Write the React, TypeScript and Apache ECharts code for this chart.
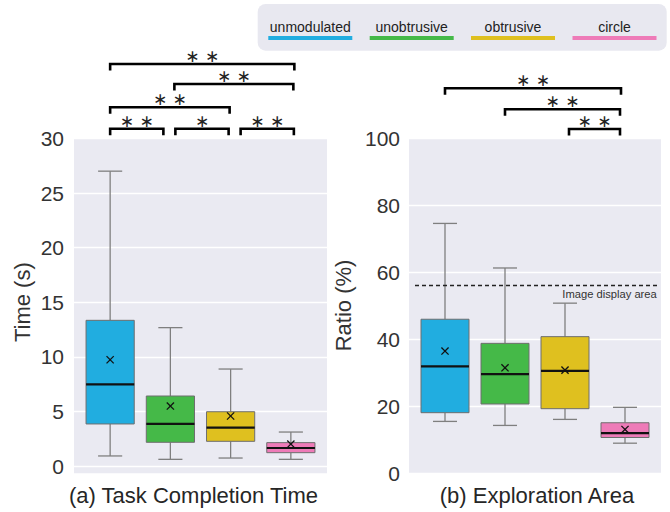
import React, { useEffect, useRef } from "react";
import * as echarts from "echarts";

const groups = ["unmodulated", "unobtrusive", "obtrusive", "circle"];
const colors = ["#21ade0", "#45b948", "#dfc01f", "#ee7bb8"];

// (a) Task Completion Time (s)
const timeLow = [0.92, 0.61, 0.73, 0.61];
const timeQ1 = [3.85, 2.17, 2.26, 1.22];
const timeMedian = [7.48, 3.85, 3.51, 1.65];
const timeQ3 = [13.34, 6.41, 4.97, 2.14];
const timeHigh = [27.0, 12.67, 8.88, 3.11];
const timeMean = [9.73, 5.49, 4.58, 2.01];
const timeTicks = [0, 5, 10, 15, 20, 25, 30];

// (b) Exploration Area ratio (%)
const ratioLow = [15.4, 14.2, 16.0, 8.9];
const ratioQ1 = [18.0, 20.6, 19.2, 10.6];
const ratioMedian = [31.8, 29.5, 30.5, 11.9];
const ratioQ3 = [45.9, 38.7, 40.7, 15.0];
const ratioHigh = [74.5, 61.2, 50.7, 19.6];
const ratioMean = [36.4, 31.4, 30.7, 13.0];
const ratioTicks = [0, 20, 40, 60, 80, 100];
const imageDisplayArea = 56;

// significance brackets
const timePairs = [[0, 3], [1, 3], [0, 2], [0, 1], [1, 2], [2, 3]];
const timeMarks = ["**", "**", "**", "**", "*", "**"];
const ratioPairs = [[0, 3], [1, 3], [2, 3]];
const ratioMarks = ["**", "**", "**"];

// layout (pixels)
const timeBracketY = [64, 84, 107.3, 128.7, 128.7, 128.7];
const timeBracketNudge = [[0, 3.5], [4, 2.5], [0, -1], [0, -7], [5, -2], [10, 3]];
const ratioBracketY = [88.3, 109.3, 129];
const ratioBracketNudge = [[0, -4], [0, -5], [4, -5]];

const FONT = "Liberation Sans";

function boxData(low: number[], q1: number[], med: number[], q3: number[], high: number[], mean: number[]) {
  return groups.map((_, i) => [i, low[i], q1[i], med[i], q3[i], high[i], mean[i]]);
}

const renderBox = (params: any, api: any) => {
  const i = api.value(0);
  const cx = api.coord([i, api.value(3)])[0];
  const yLow = api.coord([i, api.value(1)])[1];
  const yQ1 = api.coord([i, api.value(2)])[1];
  const yMed = api.coord([i, api.value(3)])[1];
  const yQ3 = api.coord([i, api.value(4)])[1];
  const yHigh = api.coord([i, api.value(5)])[1];
  const yMean = api.coord([i, api.value(6)])[1];
  const half = api.size([0.8, 0])[0] / 2;
  const cap = half / 2;
  const wStyle = { stroke: "#7f7f7f", lineWidth: 1.3 };
  const m = 3.6;
  return {
    type: "group",
    children: [
      { type: "line", shape: { x1: cx, y1: yQ3, x2: cx, y2: yHigh }, style: wStyle },
      { type: "line", shape: { x1: cx - cap, y1: yHigh, x2: cx + cap, y2: yHigh }, style: wStyle },
      { type: "line", shape: { x1: cx, y1: yQ1, x2: cx, y2: yLow }, style: wStyle },
      { type: "line", shape: { x1: cx - cap, y1: yLow, x2: cx + cap, y2: yLow }, style: wStyle },
      {
        type: "rect",
        shape: { x: cx - half, y: yQ3, width: 2 * half, height: yQ1 - yQ3 },
        style: { fill: colors[i], stroke: "#6e6e6e", lineWidth: 1 },
      },
      { type: "line", shape: { x1: cx - half, y1: yMed, x2: cx + half, y2: yMed }, style: { stroke: "#111", lineWidth: 2.2 } },
      { type: "line", shape: { x1: cx - m, y1: yMean - m, x2: cx + m, y2: yMean + m }, style: { stroke: "#111", lineWidth: 1.3 } },
      { type: "line", shape: { x1: cx - m, y1: yMean + m, x2: cx + m, y2: yMean - m }, style: { stroke: "#111", lineWidth: 1.3 } },
    ],
  };
};

const makeBracketRenderer = (pairs: number[][], marks: string[], ys: number[], nudges: number[][]) =>
  (params: any, api: any) => {
    const k = params.dataIndex;
    const [a, b] = pairs[k];
    const x1 = api.coord([a, 0])[0] + nudges[k][0];
    const x2 = api.coord([b, 0])[0] + nudges[k][1];
    const y = ys[k];
    const label = marks[k].split("").map(() => "\u2217").join(" ");
    return {
      type: "group",
      children: [
        {
          type: "polyline",
          shape: { points: [[x1, y + 6.5], [x1, y], [x2, y], [x2, y + 6.5]] },
          style: { stroke: "#000", lineWidth: 2.6, fill: "none" },
        },
        {
          type: "text",
          x: (x1 + x2) / 2,
          y: y - 8,
          style: { text: label, fontSize: 17, fontFamily: "DejaVu Sans", fill: "#222", align: "center", verticalAlign: "middle" },
        },
      ],
    };
  };

export default function App() {
  const ref = useRef<HTMLDivElement>(null);
  useEffect(() => {
    if (!ref.current) return;
    const chart = echarts.init(ref.current, null, { renderer: "svg" });
    const legendCenters = [310.3, 411.7, 513, 614.5];
    const axisLabel = { fontSize: 21, color: "#333", fontFamily: FONT };
    const option: any = {
      animation: false,
      textStyle: { fontFamily: FONT },
      grid: [
        { left: 74, top: 138.4, width: 253, height: 327.6, show: true, backgroundColor: "#eaeaf2", borderWidth: 0 },
        { left: 409, top: 138, width: 252, height: 335, show: true, backgroundColor: "#eaeaf2", borderWidth: 0 },
      ],
      xAxis: [
        { type: "value", gridIndex: 0, min: -0.6, max: 3.6, show: false },
        { type: "value", gridIndex: 1, min: -0.6, max: 3.6, show: false },
      ],
      yAxis: [
        {
          type: "value", gridIndex: 0, min: timeTicks[0], max: timeTicks[timeTicks.length - 1], interval: 5,
          axisLine: { show: false }, axisTick: { show: false },
          axisLabel: { ...axisLabel, margin: 10 },
          splitLine: { lineStyle: { color: "#ffffff", width: 1.3 } },
          name: "Time (s)", nameLocation: "middle", nameGap: 41, nameRotate: 90,
          nameTextStyle: { fontSize: 22, color: "#333", fontFamily: FONT },
        },
        {
          type: "value", gridIndex: 1, min: ratioTicks[0], max: ratioTicks[ratioTicks.length - 1], interval: 20,
          axisLine: { show: false }, axisTick: { show: false },
          axisLabel: { ...axisLabel, margin: 9 },
          splitLine: { lineStyle: { color: "#ffffff", width: 1.3 } },
          name: "Ratio (%)", nameLocation: "middle", nameGap: 55, nameRotate: 90,
          nameTextStyle: { fontSize: 22, color: "#333", fontFamily: FONT },
        },
      ],
      series: [
        {
          type: "custom", name: "time", xAxisIndex: 0, yAxisIndex: 0, z: 3,
          data: boxData(timeLow, timeQ1, timeMedian, timeQ3, timeHigh, timeMean),
          encode: { x: 0, y: [1, 2, 3, 4, 5, 6] },
          renderItem: renderBox,
        },
        {
          type: "custom", name: "ratio", xAxisIndex: 1, yAxisIndex: 1, z: 3,
          data: boxData(ratioLow, ratioQ1, ratioMedian, ratioQ3, ratioHigh, ratioMean),
          encode: { x: 0, y: [1, 2, 3, 4, 5, 6] },
          renderItem: renderBox,
          markLine: {
            silent: true, symbol: "none",
            lineStyle: { type: [4, 3], color: "#222", width: 1.4 },
            label: {
              show: true, position: "insideEndBottom", formatter: "Image display area",
              fontSize: 11.2, color: "#333", fontFamily: FONT, distance: 3,
            },
            data: [[{ coord: [-0.5, imageDisplayArea] }, { coord: [3.58, imageDisplayArea] }]],
          },
        },
        {
          type: "custom", name: "timeSig", xAxisIndex: 0, yAxisIndex: 0, clip: false, silent: true,
          data: timePairs.map((p, i) => [i, 0]),
          encode: { x: 0, y: 1 },
          renderItem: makeBracketRenderer(timePairs, timeMarks, timeBracketY, timeBracketNudge),
        },
        {
          type: "custom", name: "ratioSig", xAxisIndex: 1, yAxisIndex: 1, clip: false, silent: true,
          data: ratioPairs.map((p, i) => [i, 0]),
          encode: { x: 0, y: 1 },
          renderItem: makeBracketRenderer(ratioPairs, ratioMarks, ratioBracketY, ratioBracketNudge),
        },
      ],
      graphic: [
        { type: "rect", shape: { x: 74, y: 466.6, width: 253, height: 6.6 }, style: { fill: "#eaeaf2" }, silent: true },
        {
          type: "rect", shape: { x: 257.7, y: 4, width: 409, height: 46.7, r: 8 },
          style: { fill: "#e8e8f0" }, silent: true,
        },
        ...groups.flatMap((g, i) => [
          {
            type: "text", x: legendCenters[i], y: 26.5,
            style: { text: g, fontSize: 14, fill: "#222", fontFamily: FONT, align: "center", verticalAlign: "middle" },
          },
          {
            type: "line", shape: { x1: legendCenters[i] - 42, y1: 38, x2: legendCenters[i] + 42, y2: 38 },
            style: { stroke: colors[i], lineWidth: 4 },
          },
        ]),
        {
          type: "text", x: 193.5, y: 495,
          style: { text: "(a) Task Completion Time", fontSize: 22, fill: "#262626", fontFamily: FONT, align: "center", verticalAlign: "middle" },
        },
        {
          type: "text", x: 537, y: 495,
          style: { text: "(b) Exploration Area", fontSize: 22, fill: "#262626", fontFamily: FONT, align: "center", verticalAlign: "middle" },
        },
      ],
    };
    chart.setOption(option);
    return () => chart.dispose();
  }, []);
  return <div ref={ref} style={{ position: "fixed", left: 0, top: 0, width: 670, height: 512, background: "#fff" }} />;
}
